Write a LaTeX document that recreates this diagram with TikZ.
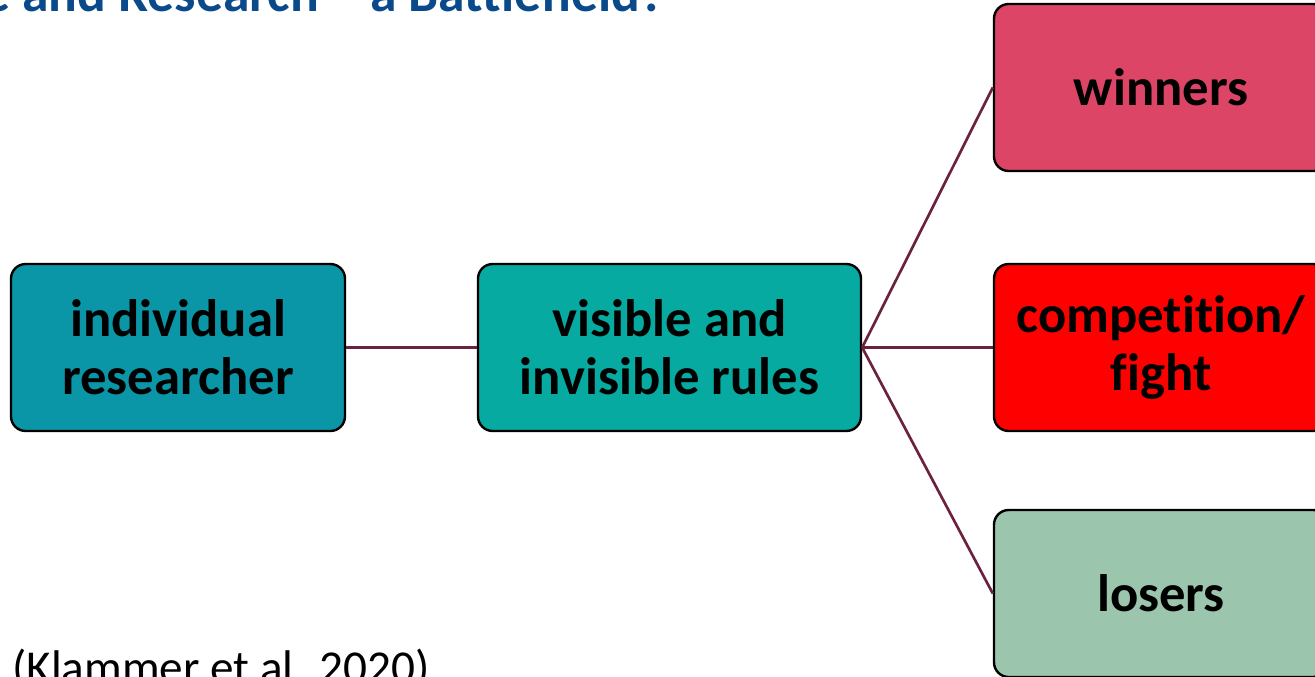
\documentclass[tikz,border=0pt]{standalone}
\usepackage{fontspec}
\setmainfont{Carlito}[Ligatures=CommonOff]
\definecolor{titleblue}{HTML}{0B4A8A}
\definecolor{linkline}{HTML}{6A2240}
\definecolor{researchfill}{HTML}{0B96A8}
\definecolor{rulesfill}{HTML}{06AAA0}
\definecolor{winnersfill}{HTML}{DC4566}
\definecolor{fightfill}{HTML}{FF0000}
\definecolor{losersfill}{HTML}{9CC5AE}
\begin{document}
\begin{tikzpicture}[x=0.75pt, y=-0.75pt,
    box/.style={draw, rounded corners=11pt, line width=1.8pt, align=center,
      minimum width=250.5pt, minimum height=125.25pt, inner sep=0pt,
      font=\fontsize{39.5}{43.5}\selectfont\bfseries},
    link/.style={draw=linkline, line width=2pt}]
    \useasboundingbox (0,0) rectangle (1315,676);
    \clip (0,0) rectangle (1315,676);

    % Titel und Quelle (abgeschnitten)
    \node[anchor=base west, inner sep=0pt, text=titleblue,
      font=\fontsize{40.2}{48}\selectfont\bfseries] (title) at (-17,11)
      {e and Research -- a Battlefield?};
    \node[anchor=base west, inner sep=0pt, font=\fontsize{35.4}{43}\selectfont]
      (cite) at (12,683) {(Klammer et al. 2020)};

    % Kästen
    \node[box, fill=researchfill] (researcher) at (178,347.5) {individual\\researcher};
    \node[box, fill=rulesfill, minimum width=287.25pt] (rules) at (669.5,347.5) {visible and\\invisible rules};
    \node[box, fill=winnersfill] (winners) at (1161,87.5) {winners};
    \node[box, fill=fightfill] (fight) at (1161,347.5) {competition/\\fight};
    \node[box, fill=losersfill] (losers) at (1161,593.5) {losers};

    % Verbindungen
    \draw[link] (researcher.east) -- (rules.west);
    \draw[link] (rules.east) -- (winners.west);
    \draw[link] (rules.east) -- (fight.west);
    \draw[link] (rules.east) -- (losers.west);
\end{tikzpicture}
\end{document}
